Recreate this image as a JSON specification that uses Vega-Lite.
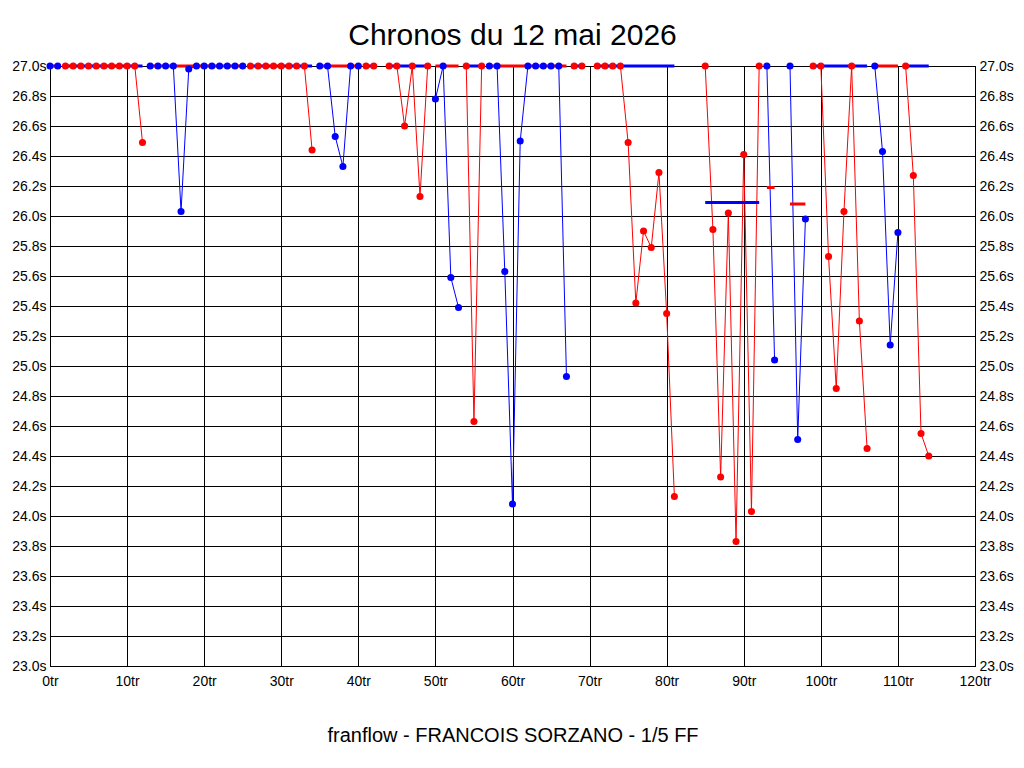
{
  "$schema": "https://vega.github.io/schema/vega-lite/v6.json",
  "width": 925,
  "height": 600,
  "autosize": "none",
  "padding": {"left": 50, "top": 66, "right": 49, "bottom": 102},
  "background": "white",
  "title": {"text": "Chronos du 12 mai 2026", "fontSize": 30, "font": "Liberation Sans", "fontWeight": "normal", "color": "black", "offset": 14, "dy": 30, "baseline": "alphabetic", "anchor": "middle"},
  "datasets": {
    "pts": [
      {"lap": 0, "t": 27, "c": "b", "s": 1}, {"lap": 1, "t": 27, "c": "b", "s": 1},
      {"lap": 2, "t": 27, "c": "r", "s": 2}, {"lap": 3, "t": 27, "c": "r", "s": 2}, {"lap": 4, "t": 27, "c": "r", "s": 2}, {"lap": 5, "t": 27, "c": "r", "s": 2}, {"lap": 6, "t": 27, "c": "r", "s": 2}, {"lap": 7, "t": 27, "c": "r", "s": 2}, {"lap": 8, "t": 27, "c": "r", "s": 2}, {"lap": 9, "t": 27, "c": "r", "s": 2}, {"lap": 10, "t": 27, "c": "r", "s": 2}, {"lap": 11, "t": 27, "c": "r", "s": 2}, {"lap": 12, "t": 26.49, "c": "r", "s": 2},
      {"lap": 13, "t": 27, "c": "b", "s": 3}, {"lap": 14, "t": 27, "c": "b", "s": 3}, {"lap": 15, "t": 27, "c": "b", "s": 3}, {"lap": 16, "t": 27, "c": "b", "s": 3}, {"lap": 17, "t": 26.03, "c": "b", "s": 3}, {"lap": 18, "t": 26.98, "c": "b", "s": 3}, {"lap": 19, "t": 27, "c": "b", "s": 3}, {"lap": 20, "t": 27, "c": "b", "s": 3}, {"lap": 21, "t": 27, "c": "b", "s": 3}, {"lap": 22, "t": 27, "c": "b", "s": 3}, {"lap": 23, "t": 27, "c": "b", "s": 3}, {"lap": 24, "t": 27, "c": "b", "s": 3}, {"lap": 25, "t": 27, "c": "b", "s": 3},
      {"lap": 26, "t": 27, "c": "r", "s": 4}, {"lap": 27, "t": 27, "c": "r", "s": 4}, {"lap": 28, "t": 27, "c": "r", "s": 4}, {"lap": 29, "t": 27, "c": "r", "s": 4}, {"lap": 30, "t": 27, "c": "r", "s": 4}, {"lap": 31, "t": 27, "c": "r", "s": 4}, {"lap": 32, "t": 27, "c": "r", "s": 4}, {"lap": 33, "t": 27, "c": "r", "s": 4}, {"lap": 34, "t": 26.44, "c": "r", "s": 4},
      {"lap": 35, "t": 27, "c": "b", "s": 5}, {"lap": 36, "t": 27, "c": "b", "s": 5}, {"lap": 37, "t": 26.53, "c": "b", "s": 5}, {"lap": 38, "t": 26.33, "c": "b", "s": 5}, {"lap": 39, "t": 27, "c": "b", "s": 5}, {"lap": 40, "t": 27, "c": "b", "s": 5},
      {"lap": 41, "t": 27, "c": "r", "s": 6}, {"lap": 42, "t": 27, "c": "r", "s": 6},
      {"lap": 44, "t": 27, "c": "r", "s": 7}, {"lap": 45, "t": 27, "c": "r", "s": 7}, {"lap": 46, "t": 26.6, "c": "r", "s": 7}, {"lap": 47, "t": 27, "c": "r", "s": 7}, {"lap": 48, "t": 26.13, "c": "r", "s": 7}, {"lap": 49, "t": 27, "c": "r", "s": 7},
      {"lap": 50, "t": 26.78, "c": "b", "s": 8}, {"lap": 51, "t": 27, "c": "b", "s": 8}, {"lap": 52, "t": 25.59, "c": "b", "s": 8}, {"lap": 53, "t": 25.39, "c": "b", "s": 8},
      {"lap": 54, "t": 27, "c": "r", "s": 9}, {"lap": 55, "t": 24.63, "c": "r", "s": 9}, {"lap": 56, "t": 27, "c": "r", "s": 9},
      {"lap": 57, "t": 27, "c": "b", "s": 10}, {"lap": 58, "t": 27, "c": "b", "s": 10}, {"lap": 59, "t": 25.63, "c": "b", "s": 10}, {"lap": 60, "t": 24.08, "c": "b", "s": 10}, {"lap": 61, "t": 26.5, "c": "b", "s": 10}, {"lap": 62, "t": 27, "c": "b", "s": 10}, {"lap": 63, "t": 27, "c": "b", "s": 10}, {"lap": 64, "t": 27, "c": "b", "s": 10}, {"lap": 65, "t": 27, "c": "b", "s": 10}, {"lap": 66, "t": 27, "c": "b", "s": 10}, {"lap": 67, "t": 24.93, "c": "b", "s": 10},
      {"lap": 68, "t": 27, "c": "r", "s": 11}, {"lap": 69, "t": 27, "c": "r", "s": 11},
      {"lap": 71, "t": 27, "c": "r", "s": 12}, {"lap": 72, "t": 27, "c": "r", "s": 12}, {"lap": 73, "t": 27, "c": "r", "s": 12}, {"lap": 74, "t": 27, "c": "r", "s": 12}, {"lap": 75, "t": 26.49, "c": "r", "s": 12}, {"lap": 76, "t": 25.42, "c": "r", "s": 12}, {"lap": 77, "t": 25.9, "c": "r", "s": 12}, {"lap": 78, "t": 25.79, "c": "r", "s": 12}, {"lap": 79, "t": 26.29, "c": "r", "s": 12}, {"lap": 80, "t": 25.35, "c": "r", "s": 12}, {"lap": 81, "t": 24.13, "c": "r", "s": 12},
      {"lap": 85, "t": 27, "c": "r", "s": 13}, {"lap": 86, "t": 25.91, "c": "r", "s": 13}, {"lap": 87, "t": 24.26, "c": "r", "s": 13}, {"lap": 88, "t": 26.02, "c": "r", "s": 13}, {"lap": 89, "t": 23.83, "c": "r", "s": 13}, {"lap": 90, "t": 26.41, "c": "r", "s": 13}, {"lap": 91, "t": 24.03, "c": "r", "s": 13}, {"lap": 92, "t": 27, "c": "r", "s": 13},
      {"lap": 93, "t": 27, "c": "b", "s": 14}, {"lap": 94, "t": 25.04, "c": "b", "s": 14},
      {"lap": 96, "t": 27, "c": "b", "s": 15}, {"lap": 97, "t": 24.51, "c": "b", "s": 15}, {"lap": 98, "t": 25.98, "c": "b", "s": 15},
      {"lap": 99, "t": 27, "c": "r", "s": 16}, {"lap": 100, "t": 27, "c": "r", "s": 16}, {"lap": 101, "t": 25.73, "c": "r", "s": 16}, {"lap": 102, "t": 24.85, "c": "r", "s": 16}, {"lap": 103, "t": 26.03, "c": "r", "s": 16}, {"lap": 104, "t": 27, "c": "r", "s": 16}, {"lap": 105, "t": 25.3, "c": "r", "s": 16}, {"lap": 106, "t": 24.45, "c": "r", "s": 16},
      {"lap": 107, "t": 27, "c": "b", "s": 17}, {"lap": 108, "t": 26.43, "c": "b", "s": 17}, {"lap": 109, "t": 25.14, "c": "b", "s": 17}, {"lap": 110, "t": 25.89, "c": "b", "s": 17},
      {"lap": 111, "t": 27, "c": "r", "s": 18}, {"lap": 112, "t": 26.27, "c": "r", "s": 18}, {"lap": 113, "t": 24.55, "c": "r", "s": 18}, {"lap": 114, "t": 24.4, "c": "r", "s": 18}
    ],
    "bars": [
      {"lap": 0, "lap2": 1, "t": 27, "c": "r"},
      {"lap": 2, "lap2": 12, "t": 27, "c": "b"},
      {"lap": 13, "lap2": 25, "t": 27, "c": "r"},
      {"lap": 26, "lap2": 34, "t": 27, "c": "b"},
      {"lap": 35, "lap2": 40, "t": 27, "c": "r"},
      {"lap": 41, "lap2": 42, "t": 27, "c": "b"},
      {"lap": 44, "lap2": 49, "t": 27, "c": "b"},
      {"lap": 50, "lap2": 53, "t": 27, "c": "r"},
      {"lap": 54, "lap2": 56, "t": 27, "c": "b"},
      {"lap": 57, "lap2": 67, "t": 27, "c": "r"},
      {"lap": 68, "lap2": 69, "t": 27, "c": "b"},
      {"lap": 71, "lap2": 81, "t": 27, "c": "b"},
      {"lap": 85, "lap2": 92, "t": 26.09, "c": "b"},
      {"lap": 93, "lap2": 94, "t": 26.19, "c": "r"},
      {"lap": 96, "lap2": 98, "t": 26.08, "c": "r"},
      {"lap": 99, "lap2": 106, "t": 27, "c": "b"},
      {"lap": 107, "lap2": 110, "t": 27, "c": "r"},
      {"lap": 111, "lap2": 114, "t": 27, "c": "b"}
    ]
  },
  "encoding": {
    "x": {"field": "lap", "type": "quantitative", "scale": {"domain": [0, 120], "nice": false, "zero": false},
      "axis": {"values": [0, 10, 20, 30, 40, 50, 60, 70, 80, 90, 100, 110, 120], "labelExpr": "datum.value + 'tr'", "title": "franflow - FRANCOIS SORZANO - 1/5 FF", "titleFontSize": 20, "titleFontWeight": "normal", "titleFont": "Liberation Sans", "titleColor": "black", "titleY": 75, "titleBaseline": "alphabetic", "labelPadding": 8, "labelFlush": false}},
    "color": {"field": "c", "type": "nominal", "scale": {"domain": ["r", "b"], "range": ["#ff0000", "#0000ff"]}, "legend": null}
  },
  "layer": [
    {
      "data": {"name": "pts"},
      "mark": {"type": "line", "strokeWidth": 1, "interpolate": "linear"},
      "encoding": {
        "y": {"field": "t", "type": "quantitative", "scale": {"domain": [23, 27], "nice": false, "zero": false},
          "axis": {"orient": "left", "values": [23, 23.2, 23.4, 23.6, 23.8, 24, 24.2, 24.4, 24.6, 24.8, 25, 25.2, 25.4, 25.6, 25.8, 26, 26.2, 26.4, 26.6, 26.8, 27], "labelExpr": "format(datum.value, '.1f') + 's'", "title": null, "labelPadding": 4}},
        "detail": {"field": "s", "type": "nominal"}
      }
    },
    {
      "data": {"name": "bars"},
      "mark": {"type": "rule", "strokeWidth": 3},
      "encoding": {
        "x2": {"field": "lap2"},
        "y": {"field": "t", "type": "quantitative", "scale": {"domain": [23, 27], "nice": false, "zero": false}, "axis": null}
      }
    },
    {
      "data": {"name": "pts"},
      "mark": {"type": "point", "filled": true, "shape": "circle", "size": 50, "opacity": 1, "strokeWidth": 0},
      "encoding": {
        "y": {"field": "t", "type": "quantitative", "scale": {"domain": [23, 27], "nice": false, "zero": false},
          "axis": {"orient": "right", "values": [23, 23.2, 23.4, 23.6, 23.8, 24, 24.2, 24.4, 24.6, 24.8, 25, 25.2, 25.4, 25.6, 25.8, 26, 26.2, 26.4, 26.6, 26.8, 27], "labelExpr": "format(datum.value, '.1f') + 's'", "title": null, "grid": false, "labelPadding": 4}}
      }
    }
  ],
  "resolve": {"axis": {"y": "independent"}},
  "config": {
    "view": {"stroke": "black", "strokeWidth": 1},
    "axis": {"grid": true, "gridColor": "black", "gridOpacity": 1, "gridWidth": 1, "ticks": false, "domainColor": "black", "domainWidth": 1, "labelColor": "black", "labelFont": "Liberation Sans", "labelFontSize": 14, "labelOverlap": false, "labelBound": false}
  }
}
